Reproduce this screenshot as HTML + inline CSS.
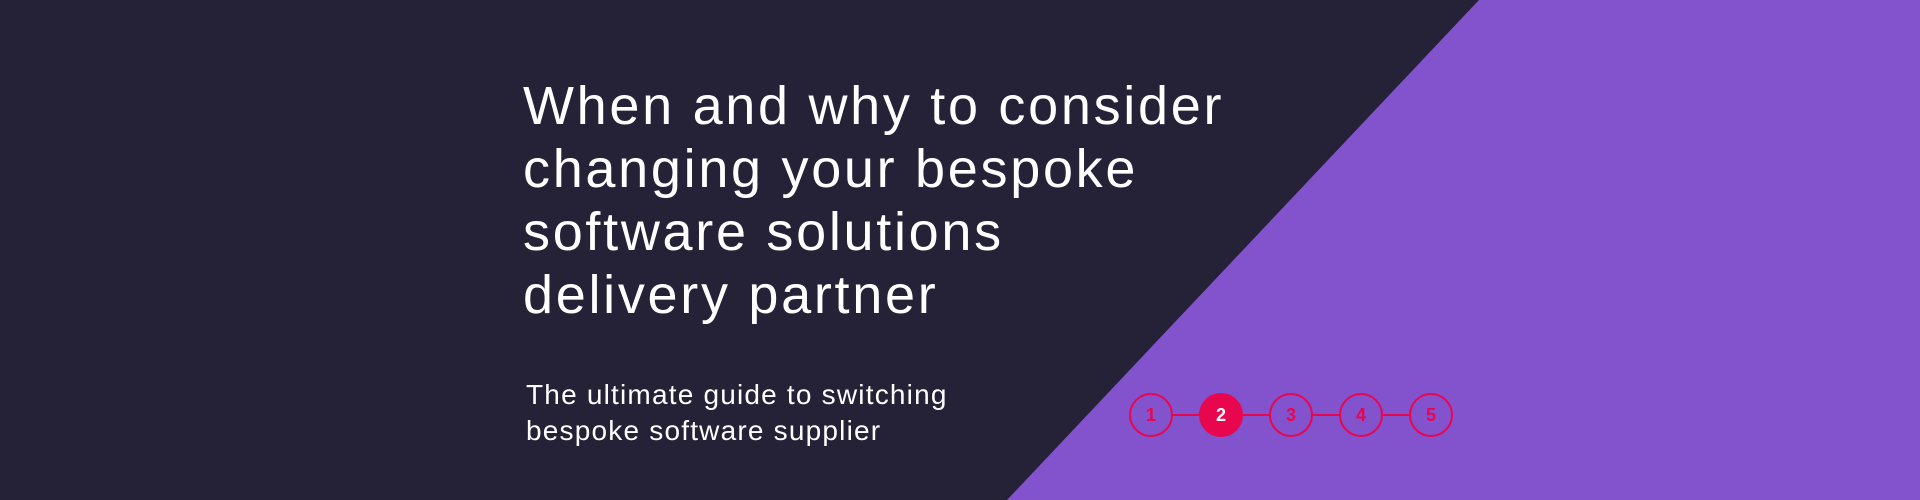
<!DOCTYPE html>
<html><head><style>
body{margin:0;width:1920px;height:500px;overflow:hidden;background:#252238;font-family:"Liberation Sans",sans-serif;}
.t{position:absolute;left:523px;top:75px;color:#fff;font-size:54px;line-height:63px;letter-spacing:2.7px;}
.s{position:absolute;left:526px;top:377px;color:#fff;font-size:28px;line-height:36px;letter-spacing:1.2px;}
</style></head><body>
<svg width="1920" height="500" style="position:absolute;left:0;top:0">
<polygon points="1479,0 1920,0 1920,500 1007,500" fill="#8352cd"/>
<line x1="1151" y1="415" x2="1431" y2="415" stroke="#e8064f" stroke-width="2"/>
<g stroke="#e8064f" stroke-width="2" fill="#8352cd">
<circle cx="1151" cy="415" r="21"/><circle cx="1291" cy="415" r="21"/><circle cx="1361" cy="415" r="21"/><circle cx="1431" cy="415" r="21"/>
</g>
<circle cx="1221" cy="415" r="22" fill="#e8064f"/>
<g font-family="Liberation Sans" font-weight="bold" font-size="18" text-anchor="middle" fill="#e8064f">
<text x="1151" y="421">1</text><text x="1221" y="421" fill="#fff">2</text><text x="1291" y="421">3</text><text x="1361" y="421">4</text><text x="1431" y="421">5</text>
</g>
</svg>
<div class="t">When and why to consider<br>changing your bespoke<br>software solutions<br>delivery partner</div>
<div class="s">The ultimate guide to switching<br>bespoke software supplier</div>
</body></html>
